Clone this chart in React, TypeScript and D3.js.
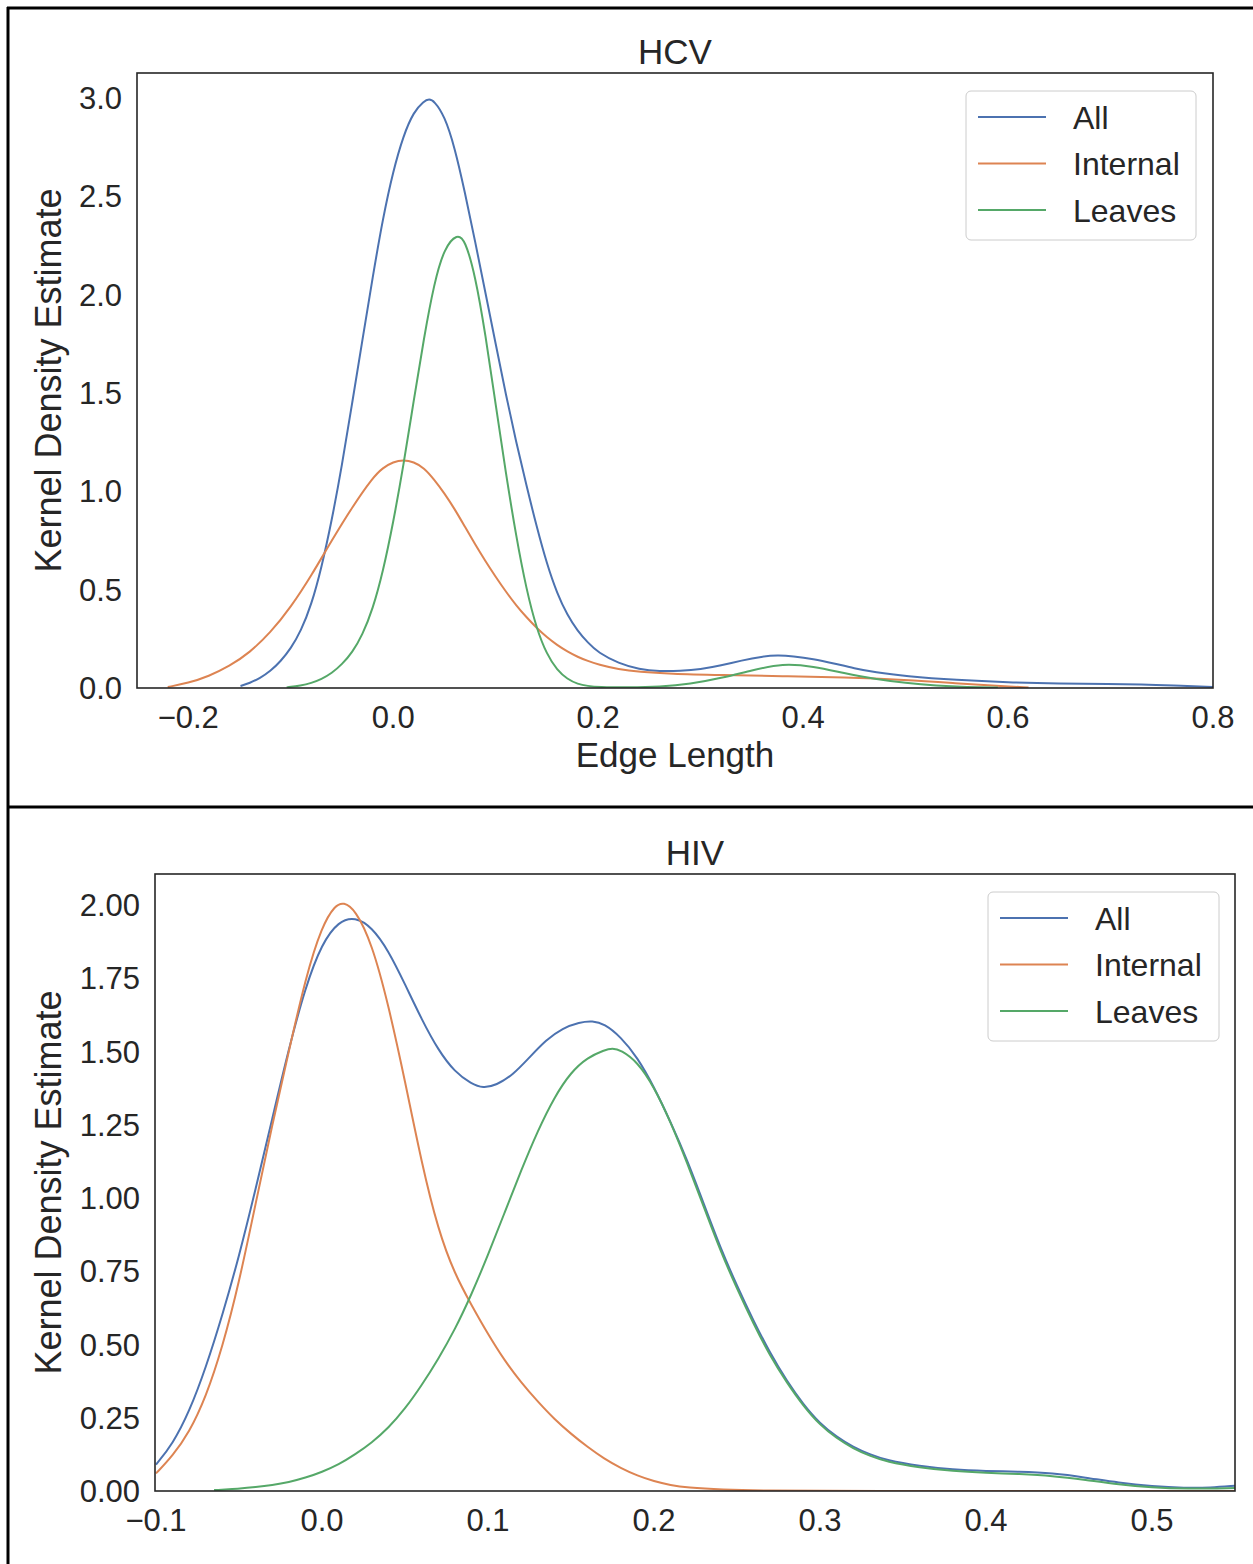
import React from "react";
import * as d3 from "d3";

// ---------- DATA ----------
const seriesNames = ["All", "Internal", "Leaves"];
const seriesColors = ["#4c72b0", "#dd8452", "#55a868"];

const hcvXTicks = [-0.2, 0.0, 0.2, 0.4, 0.6, 0.8];
const hcvYTicks = [0.0, 0.5, 1.0, 1.5, 2.0, 2.5, 3.0];
const hivXTicks = [-0.1, 0.0, 0.1, 0.2, 0.3, 0.4, 0.5];
const hivYTicks = [0.0, 0.25, 0.5, 0.75, 1.0, 1.25, 1.5, 1.75, 2.0];

// HCV curves: [edge length, density]
const hcvAll: [number, number][] = [
  [-0.149, 0.01], [-0.14, 0.025], [-0.13, 0.05], [-0.12, 0.085], [-0.11, 0.135],
  [-0.1, 0.2], [-0.09, 0.29], [-0.08, 0.42], [-0.07, 0.61], [-0.06, 0.85],
  [-0.05, 1.13], [-0.04, 1.45], [-0.03, 1.77], [-0.02, 2.09], [-0.01, 2.39],
  [0.0, 2.63], [0.01, 2.81], [0.02, 2.93], [0.03, 2.985], [0.035, 2.995],
  [0.04, 2.985], [0.05, 2.91], [0.06, 2.75], [0.07, 2.52], [0.08, 2.27],
  [0.09, 2.01], [0.1, 1.75], [0.11, 1.49], [0.12, 1.25], [0.13, 1.03],
  [0.14, 0.82], [0.15, 0.63], [0.16, 0.48], [0.17, 0.37], [0.18, 0.29],
  [0.19, 0.23], [0.2, 0.18], [0.22, 0.125], [0.24, 0.095], [0.26, 0.085],
  [0.28, 0.087], [0.3, 0.095], [0.32, 0.115], [0.34, 0.14], [0.36, 0.16],
  [0.375, 0.167], [0.39, 0.162], [0.41, 0.148], [0.43, 0.125], [0.45, 0.1],
  [0.47, 0.08], [0.5, 0.06], [0.55, 0.04], [0.6, 0.028], [0.65, 0.022],
  [0.7, 0.02], [0.73, 0.019], [0.76, 0.014], [0.8, 0.005],
];
const hcvInternal: [number, number][] = [
  [-0.22, 0.005], [-0.2, 0.025], [-0.18, 0.06], [-0.16, 0.11], [-0.14, 0.18],
  [-0.12, 0.28], [-0.1, 0.41], [-0.08, 0.57], [-0.06, 0.75], [-0.04, 0.92],
  [-0.02, 1.07], [-0.01, 1.12], [0.0, 1.15], [0.01, 1.16], [0.02, 1.15],
  [0.03, 1.12], [0.04, 1.06], [0.05, 0.99], [0.06, 0.91], [0.07, 0.82],
  [0.08, 0.73], [0.09, 0.645], [0.1, 0.565], [0.11, 0.49], [0.12, 0.42],
  [0.13, 0.36], [0.14, 0.305], [0.15, 0.258], [0.16, 0.218], [0.17, 0.185],
  [0.18, 0.158], [0.19, 0.137], [0.2, 0.12], [0.22, 0.095], [0.24, 0.082],
  [0.27, 0.072], [0.32, 0.066], [0.38, 0.06], [0.44, 0.055], [0.5, 0.042],
  [0.55, 0.024], [0.59, 0.01], [0.62, 0.003],
];
const hcvLeaves: [number, number][] = [
  [-0.104, 0.003], [-0.09, 0.012], [-0.08, 0.025], [-0.07, 0.045], [-0.06, 0.075],
  [-0.05, 0.12], [-0.04, 0.18], [-0.03, 0.27], [-0.02, 0.4], [-0.01, 0.59],
  [0.0, 0.84], [0.01, 1.13], [0.02, 1.46], [0.03, 1.78], [0.04, 2.06],
  [0.05, 2.24], [0.0625, 2.31], [0.07, 2.28], [0.08, 2.1], [0.09, 1.8],
  [0.1, 1.44], [0.11, 1.09], [0.12, 0.77], [0.13, 0.5], [0.14, 0.3],
  [0.15, 0.17], [0.16, 0.09], [0.17, 0.045], [0.18, 0.02], [0.19, 0.01],
  [0.2, 0.005], [0.23, 0.003], [0.26, 0.006], [0.29, 0.02], [0.32, 0.05],
  [0.35, 0.09], [0.38, 0.125], [0.41, 0.11], [0.44, 0.075], [0.47, 0.045],
  [0.5, 0.025], [0.53, 0.012], [0.56, 0.005], [0.59, 0.002],
];

// HIV curves
const hivAll: [number, number][] = [
  [-0.1, 0.09], [-0.09, 0.16], [-0.08, 0.27], [-0.07, 0.42], [-0.06, 0.6],
  [-0.05, 0.8], [-0.04, 1.03], [-0.03, 1.27], [-0.02, 1.51], [-0.01, 1.72],
  [0.0, 1.87], [0.01, 1.945], [0.02, 1.96], [0.03, 1.925], [0.04, 1.845],
  [0.05, 1.73], [0.06, 1.61], [0.07, 1.505], [0.08, 1.43], [0.09, 1.39],
  [0.097, 1.375], [0.105, 1.385], [0.115, 1.42], [0.125, 1.48], [0.135, 1.54],
  [0.145, 1.58], [0.155, 1.6], [0.163, 1.605], [0.17, 1.595], [0.18, 1.55],
  [0.19, 1.48], [0.2, 1.38], [0.21, 1.26], [0.22, 1.13], [0.23, 0.98],
  [0.24, 0.83], [0.25, 0.7], [0.26, 0.58], [0.27, 0.47], [0.28, 0.375],
  [0.29, 0.295], [0.3, 0.23], [0.31, 0.185], [0.32, 0.15], [0.33, 0.125],
  [0.34, 0.105], [0.36, 0.085], [0.38, 0.073], [0.4, 0.068], [0.42, 0.066],
  [0.44, 0.061], [0.46, 0.046], [0.48, 0.028], [0.5, 0.016], [0.52, 0.01],
  [0.535, 0.011], [0.55, 0.018],
];
const hivInternal: [number, number][] = [
  [-0.1, 0.06], [-0.09, 0.12], [-0.08, 0.2], [-0.07, 0.32], [-0.06, 0.49],
  [-0.05, 0.71], [-0.04, 0.98], [-0.03, 1.25], [-0.02, 1.5], [-0.01, 1.75],
  [0.0, 1.93], [0.008, 2.0], [0.013, 2.01], [0.02, 1.985], [0.03, 1.87],
  [0.04, 1.66], [0.05, 1.4], [0.06, 1.12], [0.07, 0.89], [0.08, 0.74],
  [0.09, 0.635], [0.1, 0.535], [0.11, 0.445], [0.12, 0.37], [0.13, 0.305],
  [0.14, 0.245], [0.15, 0.195], [0.16, 0.15], [0.17, 0.11], [0.18, 0.078],
  [0.19, 0.052], [0.2, 0.033], [0.21, 0.02], [0.22, 0.012], [0.24, 0.005],
  [0.27, 0.001], [0.3, 0.0], [0.55, 0.0],
];
const hivLeaves: [number, number][] = [
  [-0.065, 0.003], [-0.05, 0.008], [-0.04, 0.013], [-0.03, 0.02], [-0.02, 0.03],
  [-0.01, 0.045], [0.0, 0.065], [0.01, 0.09], [0.02, 0.125], [0.03, 0.165],
  [0.04, 0.215], [0.05, 0.28], [0.06, 0.36], [0.07, 0.45], [0.08, 0.55],
  [0.09, 0.67], [0.1, 0.805], [0.11, 0.95], [0.12, 1.095], [0.13, 1.23],
  [0.14, 1.345], [0.15, 1.43], [0.16, 1.48], [0.17, 1.505], [0.175, 1.512],
  [0.18, 1.505], [0.19, 1.465], [0.2, 1.38], [0.21, 1.26], [0.22, 1.12],
  [0.23, 0.97], [0.24, 0.82], [0.25, 0.69], [0.26, 0.57], [0.27, 0.46],
  [0.28, 0.37], [0.29, 0.29], [0.3, 0.225], [0.31, 0.18], [0.32, 0.145],
  [0.33, 0.12], [0.34, 0.1], [0.36, 0.08], [0.38, 0.068], [0.4, 0.062],
  [0.42, 0.058], [0.44, 0.052], [0.46, 0.038], [0.48, 0.022], [0.5, 0.012],
  [0.52, 0.007], [0.55, 0.01],
];

// ---------- LAYOUT ----------
const W = 1253;
const H = 1564;
const FONT = "'Liberation Sans', Arial, Helvetica, sans-serif";
const TEXT = "#262626";

type PanelProps = {
  title: string;
  left: number; right: number; top: number; bottom: number;
  xDomain: [number, number]; yDomain: [number, number];
  xTicks: number[]; yTicks: number[]; yFmt: string;
  curves: [number, number][][];
  xLabel?: string;
  legend: { x: number; y: number; w: number; h: number };
};

function Panel(p: PanelProps) {
  const x = d3.scaleLinear().domain(p.xDomain).range([p.left, p.right]);
  const y = d3.scaleLinear().domain(p.yDomain).range([p.bottom, p.top]);
  const line = d3
    .line<[number, number]>()
    .x((d) => x(d[0]))
    .y((d) => y(d[1]))
    .curve(d3.curveBasis);
  const xf = d3.format(".1f");
  const yf = d3.format(p.yFmt);
  const cx = (p.left + p.right) / 2;
  const cy = (p.top + p.bottom) / 2;
  const clipId = "clip-" + p.title;
  const rowGap = 46.5;
  return (
    <g>
      <defs>
        <clipPath id={clipId}>
          <rect x={p.left} y={p.top} width={p.right - p.left} height={p.bottom - p.top} />
        </clipPath>
      </defs>
      <text x={cx} y={p.top - 9} textAnchor="middle" fontSize={35} fill={TEXT}>
        {p.title}
      </text>
      <g clipPath={`url(#${clipId})`}>
        {p.curves.map((c, i) => (
          <path key={i} d={line(c) || ""} fill="none" stroke={seriesColors[i]} strokeWidth={2} />
        ))}
      </g>
      <rect
        x={p.left}
        y={p.top}
        width={p.right - p.left}
        height={p.bottom - p.top}
        fill="none"
        stroke="#262626"
        strokeWidth={1.6}
      />
      {p.xTicks.map((t) => (
        <text key={"x" + t} x={x(t)} y={p.bottom + 40} textAnchor="middle" fontSize={31} fill={TEXT}>
          {xf(t)}
        </text>
      ))}
      {p.yTicks.map((t) => (
        <text key={"y" + t} x={p.left - 15} y={y(t) + 11} textAnchor="end" fontSize={31} fill={TEXT}>
          {yf(t)}
        </text>
      ))}
      {p.xLabel && (
        <text x={cx} y={p.bottom + 79} textAnchor="middle" fontSize={35} fill={TEXT}>
          {p.xLabel}
        </text>
      )}
      <text
        transform={`translate(61,${cy}) rotate(-90)`}
        textAnchor="middle"
        fontSize={36}
        fill={TEXT}
      >
        Kernel Density Estimate
      </text>
      <g>
        <rect
          x={p.legend.x}
          y={p.legend.y}
          width={p.legend.w}
          height={p.legend.h}
          rx={5}
          fill="#ffffff"
          fillOpacity={0.8}
          stroke="#cccccc"
          strokeWidth={1}
        />
        {seriesNames.map((n, i) => {
          const ry = p.legend.y + 26 + i * rowGap;
          return (
            <g key={n}>
              <line
                x1={p.legend.x + 12}
                x2={p.legend.x + 80}
                y1={ry}
                y2={ry}
                stroke={seriesColors[i]}
                strokeWidth={2}
              />
              <text x={p.legend.x + 107} y={ry + 11.5} fontSize={32} fill={TEXT}>
                {n}
              </text>
            </g>
          );
        })}
      </g>
    </g>
  );
}

export default function App() {
  return (
    <svg
      width={W}
      height={H}
      viewBox={`0 0 ${W} ${H}`}
      style={{ position: "absolute", left: 0, top: 0, display: "block", background: "#fff" }}
      fontFamily={FONT}
    >
      <rect x={0} y={0} width={W} height={H} fill="#ffffff" />
      <Panel
        title="HCV"
        left={137}
        right={1213}
        top={73}
        bottom={688}
        xDomain={[-0.25, 0.8]}
        yDomain={[0, 3.127]}
        xTicks={hcvXTicks}
        yTicks={hcvYTicks}
        yFmt=".1f"
        curves={[hcvAll, hcvInternal, hcvLeaves]}
        xLabel="Edge Length"
        legend={{ x: 966, y: 91, w: 230, h: 149 }}
      />
      <Panel
        title="HIV"
        left={155}
        right={1235}
        top={874}
        bottom={1491}
        xDomain={[-0.1006, 0.55]}
        yDomain={[0, 2.106]}
        xTicks={hivXTicks}
        yTicks={hivYTicks}
        yFmt=".2f"
        curves={[hivAll, hivInternal, hivLeaves]}
        legend={{ x: 988, y: 892, w: 231, h: 149 }}
      />
      {/* outer table frame */}
      <line x1={8} x2={8} y1={7} y2={H} stroke="#000" strokeWidth={3} />
      <line x1={7} x2={W} y1={8} y2={8} stroke="#000" strokeWidth={3} />
      <line x1={7} x2={W} y1={807} y2={807} stroke="#000" strokeWidth={3} />
    </svg>
  );
}
